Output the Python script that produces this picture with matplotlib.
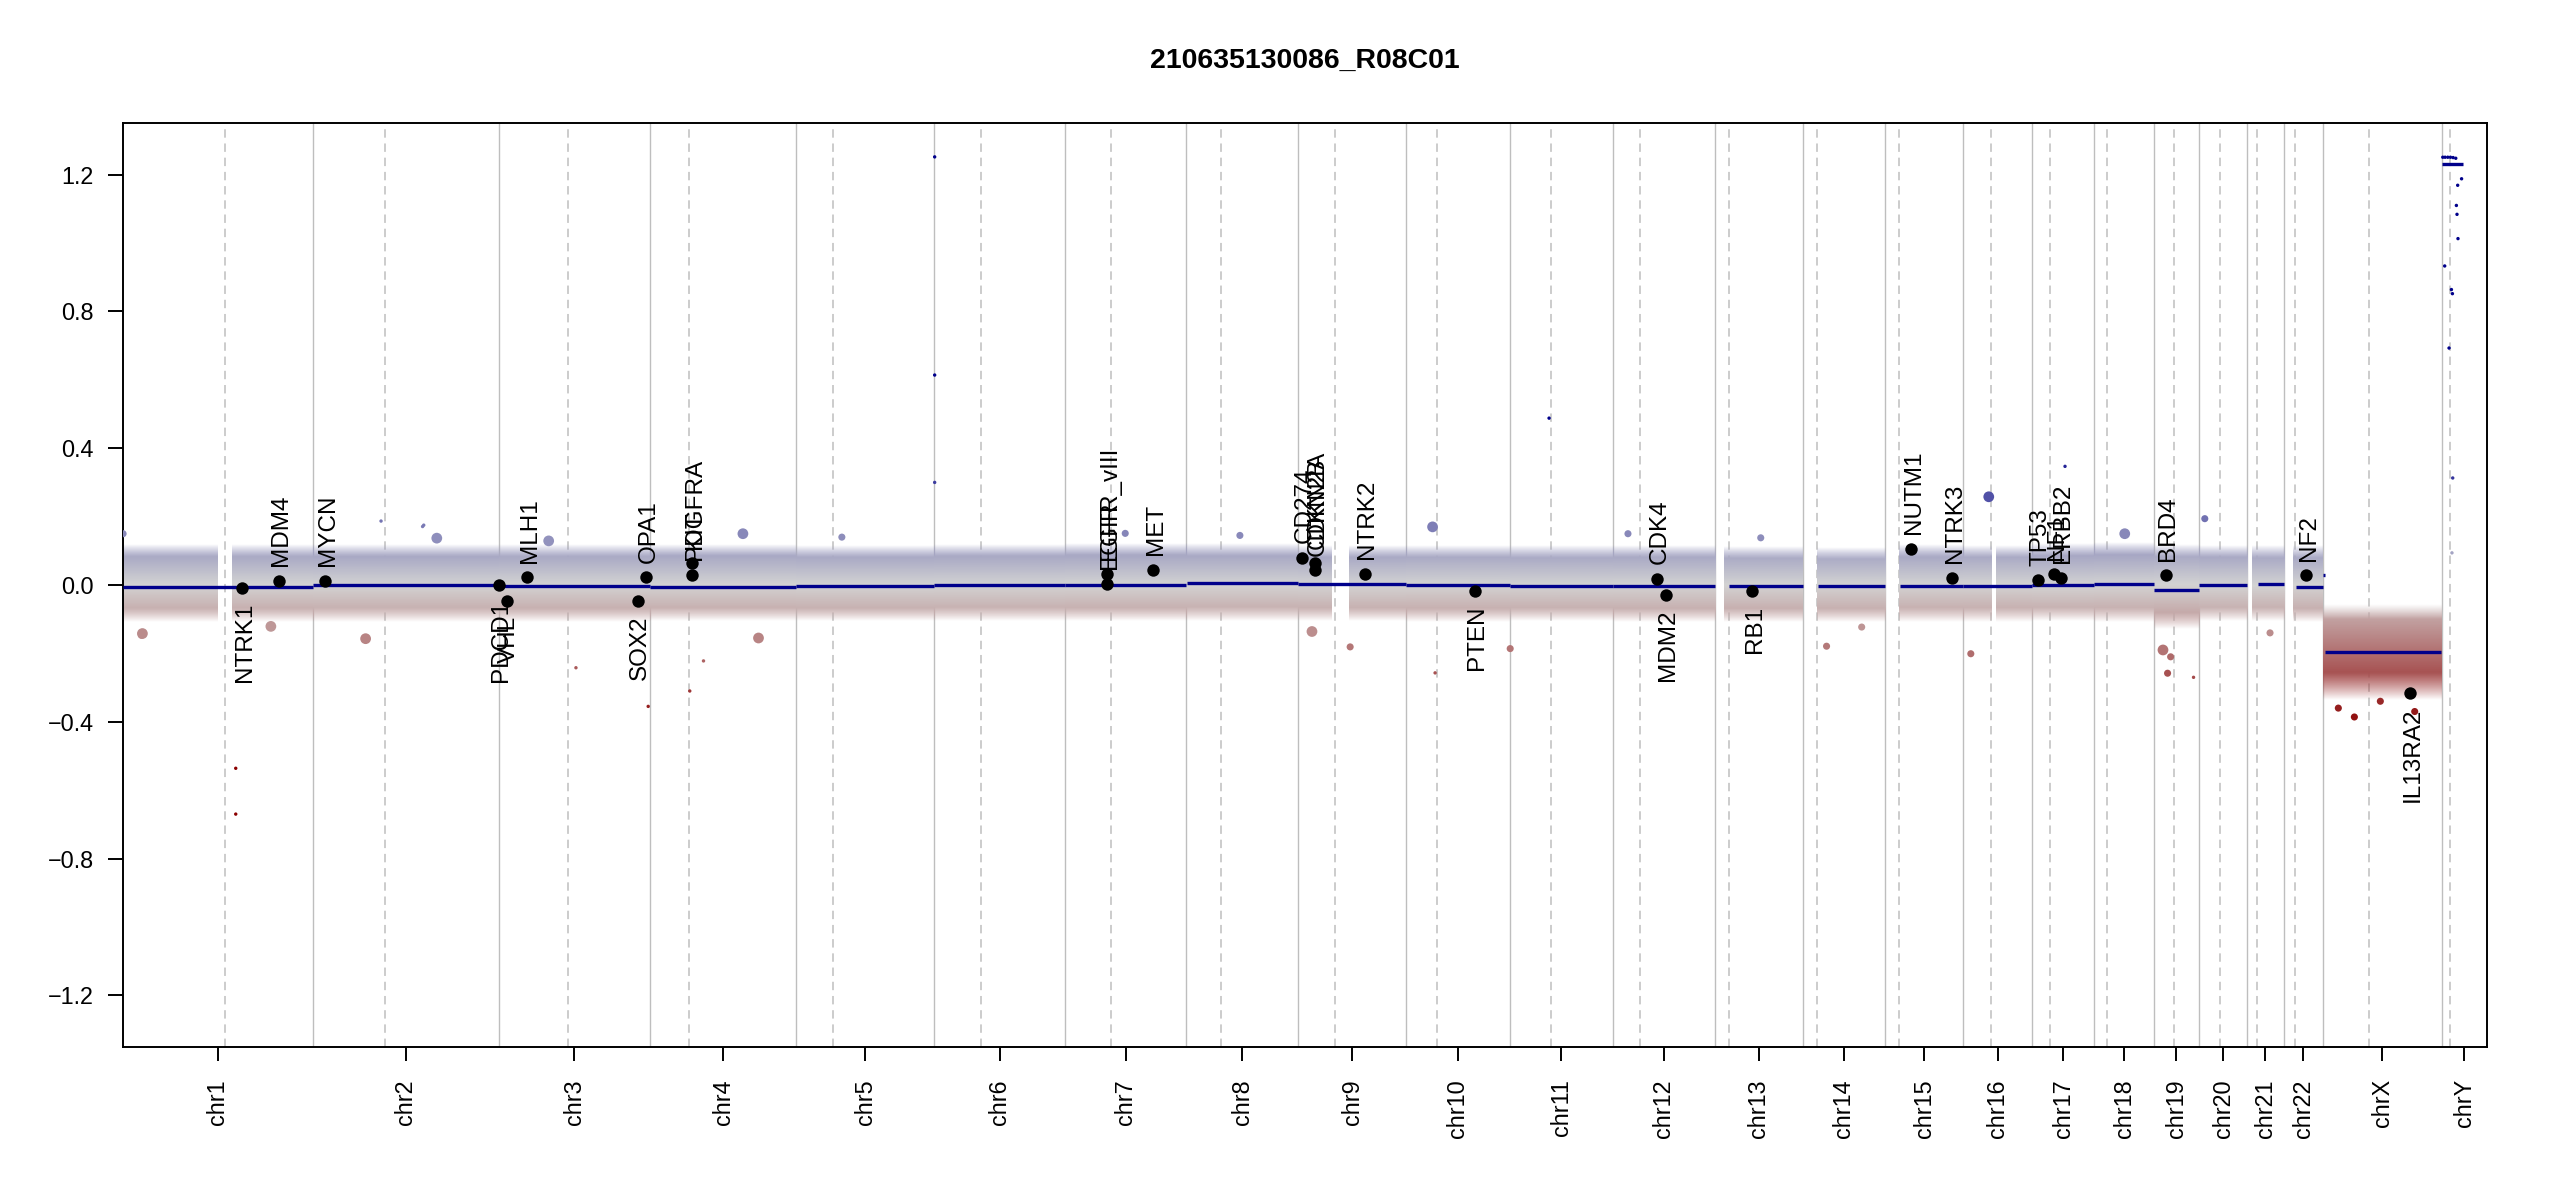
import numpy as np
import matplotlib
matplotlib.use("Agg")
import matplotlib.pyplot as plt
from matplotlib.colors import LinearSegmentedColormap, Normalize

plt.rcParams['font.family'] = ['Liberation Sans', 'DejaVu Sans']

TITLE = "210635130086_R08C01"

# ---------------- data ----------------
chrom_names = ["chr1", "chr2", "chr3", "chr4", "chr5", "chr6", "chr7", "chr8",
               "chr9", "chr10", "chr11", "chr12", "chr13", "chr14", "chr15",
               "chr16", "chr17", "chr18", "chr19", "chr20", "chr21", "chr22",
               "chrX", "chrY"]
chrom_sizes = [249.250621, 243.199373, 198.022430, 191.154276, 180.915260,
               171.115067, 159.138663, 146.364022, 141.213431, 135.534747,
               135.006516, 133.851895, 115.169878, 107.349540, 102.531392,
               90.354753, 81.195210, 78.077248, 59.128983, 63.025520,
               48.129895, 51.304566, 155.270560, 59.373566]
centromeres = [133.6, 93.8, 91.0, 50.4, 48.4, 61.0, 59.9, 45.6, 48.2, 40.2,
               53.7, 35.8, 17.9, 18.1, 18.5, 36.4, 23.3, 16.7, 26.4, 27.5,
               13.2, 14.7, 60.6, 10.8]

# extent of the dense bin cloud (chromosome, start Mb, end Mb)
cloud_chrom = ["chr1", "chr1", "chr2", "chr3", "chr4", "chr5", "chr6", "chr7",
               "chr8", "chr9", "chr9", "chr10", "chr11", "chr12", "chr13",
               "chr14", "chr15", "chr16", "chr16", "chr17", "chr18", "chr19",
               "chr20", "chr21", "chr22", "chrX"]
cloud_start = [0.0, 143.0, 0.0, 0.0, 0.0, 0.0, 0.0, 0.0, 0.0, 0.0, 65.9, 0.0,
               0.0, 0.0, 12.5, 18.0, 18.4, 0.0, 43.0, 0.0, 0.0, 0.0, 0.0, 6.0,
               12.2, 0.0]
cloud_end = [123.5, 249.25, 243.2, 198.0, 191.15, 180.9, 171.1, 159.1, 146.4,
             43.7, 141.2, 135.5, 135.0, 133.85, 115.17, 107.35, 102.53, 36.7,
             90.35, 81.2, 78.1, 59.1, 63.0, 48.1, 51.3, 155.0]
cloud_core_lo = [-0.068, -0.068, -0.066, -0.068, -0.066, -0.066, -0.064, -0.066,
                 -0.064, -0.066, -0.066, -0.068, -0.066, -0.068, -0.068, -0.068,
                 -0.066, -0.066, -0.066, -0.064, -0.066, -0.082, -0.064, -0.064,
                 -0.068, -0.255]
cloud_core_hi = [0.082, 0.082, 0.084, 0.082, 0.084, 0.082, 0.084, 0.086, 0.084,
                 0.082, 0.082, 0.080, 0.080, 0.082, 0.078, 0.076, 0.082, 0.080,
                 0.080, 0.086, 0.088, 0.080, 0.082, 0.080, 0.080, -0.098]
cloud_out_lo = [-0.108, -0.108, -0.108, -0.108, -0.105, -0.104, -0.104, -0.105,
                -0.105, -0.105, -0.105, -0.108, -0.105, -0.108, -0.108, -0.108,
                -0.108, -0.108, -0.108, -0.104, -0.108, -0.130, -0.104, -0.104,
                -0.108, -0.335]
cloud_out_hi = [0.118, 0.118, 0.120, 0.118, 0.118, 0.117, 0.119, 0.121, 0.121,
                0.117, 0.117, 0.115, 0.117, 0.117, 0.113, 0.111, 0.119, 0.115,
                0.115, 0.123, 0.125, 0.117, 0.117, 0.117, 0.117, -0.055]

# scattered single bins outside the dense cloud (chromosome, Mb, log2 ratio, weight)
out_chrom = ["chr1", "chr1", "chr1", "chr1", "chr1", "chr1", "chr2", "chr2",
             "chr2", "chr2", "chr3", "chr4", "chr2", "chr4", "chr3", "chr3",
             "chr4", "chr10", "chr7", "chr9", "chr9", "chr11", "chr10",
             "chr16", "chr16", "chr17", "chr20", "chr14", "chr14", "chr19",
             "chr19", "chrX", "chr6", "chr6", "chr6", "chr11", "chr4",
             "chr5", "chr8", "chr12", "chr13", "chr18", "chr21", "chrX",
             "chrX", "chrX", "chr19", "chr19"]
out_pos = [0.5, 148.0, 148.0, 24.5, 25.8, 194.0, 143.4, 89.0, 144.9, 162.0,
           65.3, 121.6, 68.8, 142.0, 195.6, 101.0, 70.0, 34.7, 79.0, 18.0,
           68.0, 0.8, 38.0, 33.5, 10.0, 43.0, 7.6, 31.0, 77.0, 18.0, 52.0,
           41.0, 0.6, 0.6, 0.6, 51.7, 52.0, 60.0, 70.0, 20.0, 60.0, 40.0,
           30.0, 20.0, 75.0, 120.0, 12.0, 22.0]
out_value = [0.150, -0.536, -0.670, -0.147, -0.142, -0.121, 0.171, 0.187,
             0.175, 0.137, 0.129, 0.150, -0.157, -0.155, -0.355, -0.242,
             -0.222, 0.170, 0.151, -0.136, -0.181, -0.186, -0.257, 0.258,
             -0.201, 0.347, 0.194, -0.179, -0.123, -0.258, -0.270, -0.386,
             1.252, 0.614, 0.300, 0.488, -0.310, 0.140, 0.145, 0.150, 0.138,
             0.150, -0.140, -0.360, -0.340, -0.370, -0.190, -0.210]
out_weight = [2, 1, 1, 2, 3, 3, 1, 1, 1, 3, 3, 3, 3, 3, 1, 1, 1, 3, 2, 3, 2,
              2, 1, 3, 2, 1, 2, 2, 2, 2, 1, 2, 1, 1, 1, 1, 1, 2, 2, 2, 2, 3,
              2, 2, 2, 2, 3, 2]

# chrY bins
y_bin_pos = [1.5, 4.5, 8.0, 11.5, 15.0, 18.5, 26.1, 21.0, 19.3, 20.1, 21.4,
             4.0, 12.8, 14.1, 9.7, 14.5, 13.5]
y_bin_value = [1.251, 1.251, 1.251, 1.251, 1.250, 1.248, 1.188, 1.169, 1.110,
               1.084, 1.013, 0.933, 0.864, 0.852, 0.693, 0.313, 0.094]

# segments (chromosome, start Mb, end Mb, mean log2 ratio)
seg_chrom = ["chr1", "chr2", "chr3", "chr4", "chr5", "chr6", "chr7", "chr8",
             "chr9", "chr10", "chr11", "chr12", "chr13", "chr14", "chr15",
             "chr16", "chr17", "chr18", "chr19", "chr20", "chr21", "chr22",
             "chrX", "chrX", "chrY"]
seg_start = [0.8, 0.0, 0.1, 0.1, 0.1, 0.2, 0.1, 0.2, 0.2, 0.1, 0.2, 0.2, 19.0,
             19.5, 20.0, 0.1, 0.1, 0.1, 0.3, 0.1, 14.5, 16.5, 0.2, 2.7, 1.0]
seg_end = [249.2, 243.1, 197.9, 191.0, 180.8, 171.0, 159.1, 146.3, 141.1,
           135.5, 135.0, 133.8, 115.1, 107.3, 102.5, 90.3, 81.1, 78.0, 59.1,
           62.9, 48.1, 51.2, 2.0, 155.0, 28.3]
seg_value = [-0.007, 0.000, -0.004, -0.005, -0.002, 0.000, -0.001, 0.005,
             0.002, 0.001, -0.002, -0.002, -0.002, -0.002, -0.002, -0.002,
             0.001, 0.004, -0.016, 0.001, 0.004, -0.005, 0.030, -0.195, 1.232]

# highlighted genes
gene_names = ["NTRK1", "MDM4", "MYCN", "PDCD1", "VHL", "MLH1", "SOX2", "OPA1",
              "PDGFRA", "KIT", "EGFR", "EGFR_vIII", "MET", "CD274", "CDKN2A",
              "CDKN2B", "NTRK2", "PTEN", "CDK4", "MDM2", "RB1", "NUTM1",
              "NTRK3", "TP53", "NF1", "ERBB2", "BRD4", "NF2", "IL13RA2"]
gene_chrom = ["chr1", "chr1", "chr2", "chr2", "chr3", "chr3", "chr3", "chr3",
              "chr4", "chr4", "chr7", "chr7", "chr7", "chr9", "chr9", "chr9",
              "chr9", "chr10", "chr12", "chr12", "chr13", "chr15", "chr15",
              "chr17", "chr17", "chr17", "chr19", "chr22", "chrX"]
gene_pos = [156.8, 204.5, 16.1, 242.8, 10.2, 37.0, 181.8, 193.3, 55.1, 55.5,
            55.2, 55.2, 116.0, 5.2, 21.97, 22.0, 87.3, 89.6, 58.1, 69.3, 49.0,
            34.6, 88.2, 7.4, 29.2, 37.4, 15.4, 29.0, 113.8]
gene_value = [-0.008, 0.013, 0.013, -0.001, -0.047, 0.022, -0.048, 0.022,
              0.030, 0.064, 0.004, 0.031, 0.045, 0.080, 0.063, 0.043, 0.033,
              -0.017, 0.018, -0.028, -0.018, 0.106, 0.021, 0.014, 0.031,
              0.021, 0.028, 0.028, -0.315]

y_ticks = [-1.2, -0.8, -0.4, 0.0, 0.4, 0.8, 1.2]

# ---------------- plotting ----------------
offsets = np.concatenate([[0.0], np.cumsum(chrom_sizes)[:-1]])
chrom_off = dict(zip(chrom_names, offsets))
genome_len = float(np.sum(chrom_sizes))

cmap = LinearSegmentedColormap.from_list("cnv", ["#8B0000", "#D3D3D3", "#00008B"])
norm = Normalize(vmin=-0.42, vmax=0.42, clip=True)

fig = plt.figure(figsize=(25.5, 12), dpi=100)
ax = fig.add_axes([0.04812, 0.12725, 0.92717, 0.7705])

# chromosome borders and centromeres
for i, off in enumerate(offsets):
    if i > 0:
        ax.axvline(off, color="#bebebe", lw=1.0, zorder=1)
    ax.axvline(off + centromeres[i], color="#bebebe", lw=1.1,
               linestyle=(0, (5.5, 3.8)), zorder=1)

# dense bin cloud
for c, s, e, clo, chi, olo, ohi in zip(cloud_chrom, cloud_start, cloud_end,
                                       cloud_core_lo, cloud_core_hi,
                                       cloud_out_lo, cloud_out_hi):
    x0 = chrom_off[c] + s
    x1 = chrom_off[c] + e
    yy = np.linspace(olo, ohi, 200)
    rgba = cmap(norm(yy))
    alpha = np.ones_like(yy)
    lo_mask = yy < clo
    hi_mask = yy > chi
    alpha[lo_mask] = (yy[lo_mask] - olo) / (clo - olo)
    alpha[hi_mask] = (ohi - yy[hi_mask]) / (ohi - chi)
    rgba[:, 3] = alpha
    ax.imshow(rgba.reshape(-1, 1, 4), extent=(x0, x1, olo, ohi),
              origin="lower", aspect="auto", interpolation="bilinear",
              zorder=2)

# scattered bins
ox = [chrom_off[c] + p for c, p in zip(out_chrom, out_pos)]
osz = [{1: 6, 2: 26, 3: 60}[w] for w in out_weight]
ax.scatter(ox, out_value, s=osz, c=cmap(norm(np.array(out_value))),
           linewidths=0, zorder=3)
yx = [chrom_off["chrY"] + p for p in y_bin_pos]
ax.scatter(yx, y_bin_value, s=6, c=cmap(norm(np.array(y_bin_value))),
           linewidths=0, zorder=3)

# segments
for c, s, e, v in zip(seg_chrom, seg_start, seg_end, seg_value):
    ax.plot([chrom_off[c] + s, chrom_off[c] + e], [v, v], color="#00008B",
            lw=2.4, solid_capstyle="butt", zorder=4)

# genes
gx = [chrom_off[c] + p for c, p in zip(gene_chrom, gene_pos)]
ax.scatter(gx, gene_value, s=80, color="black", linewidths=0, zorder=5)
for name, x, v in zip(gene_names, gx, gene_value):
    up = v > 0
    ax.annotate(name, (x, v), xytext=(0, 10.5 if up else -10.5),
                textcoords="offset points", rotation=90,
                rotation_mode="anchor", ha="left" if up else "right",
                va="center_baseline", fontsize=17.5, zorder=6)

# axes
ax.set_xlim(0, genome_len)
ax.set_ylim(-1.352, 1.352)
centers = offsets + np.array(chrom_sizes) / 2.0
ax.set_xticks(centers)
ax.set_xticklabels(chrom_names, rotation=90, fontsize=16.8)
ax.set_yticks(y_ticks)
ax.set_yticklabels([("%.1f" % t).replace("-", "\u2212") for t in y_ticks],
                   fontsize=16.8)
ax.tick_params(axis="x", length=10, width=1.4, pad=13)
ax.tick_params(axis="y", length=10.5, width=1.4, pad=10.5)
for sp in ax.spines.values():
    sp.set_linewidth(1.4)

fig.text(0.5117, 1 - 61 / 1200, TITLE, ha="center", va="center",
         fontsize=20.5, fontweight="bold")

fig.savefig("out.png", dpi=100)
